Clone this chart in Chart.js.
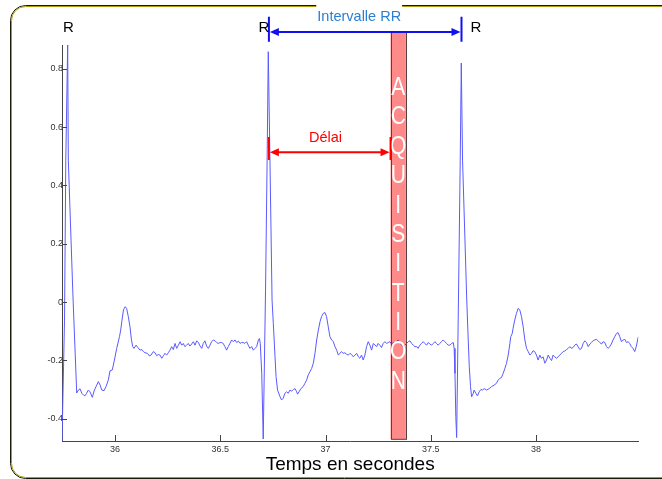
<!DOCTYPE html>
<html lang="fr">
<head>
<meta charset="UTF-8">
<title>ECG - intervalle RR</title>
<script src="https://cdn.jsdelivr.net/npm/chart.js@4"></script>
<style>
  html,body{margin:0;padding:0;background:#fff}
  #wrap{width:662px;height:479px}
</style>
</head>
<body>
<div id="wrap"><canvas id="ecg" width="662" height="479"></canvas></div>
<script>
// trace: time (s) and amplitude
const ecgTime = [
  35.748,35.760,35.766,35.775,35.778,35.799,35.805,35.818,35.826,35.834,35.842,35.850,35.857,35.865,35.873,35.881,
  35.892,35.902,35.913,35.921,35.929,35.937,35.948,35.957,35.968,35.976,35.987,35.997,36.008,36.021,36.027,36.033,
  36.040,36.048,36.055,36.063,36.071,36.078,36.084,36.090,36.100,36.108,36.119,36.127,36.135,36.142,36.154,36.163,
  36.171,36.182,36.190,36.198,36.206,36.214,36.222,36.230,36.237,36.245,36.253,36.261,36.269,36.277,36.285,36.293,
  36.301,36.309,36.317,36.324,36.332,36.340,36.348,36.356,36.364,36.372,36.380,36.388,36.396,36.404,36.412,36.419,
  36.427,36.435,36.443,36.451,36.459,36.467,36.475,36.483,36.491,36.499,36.506,36.514,36.522,36.530,36.538,36.546,
  36.554,36.562,36.570,36.578,36.586,36.594,36.601,36.609,36.617,36.625,36.633,36.641,36.649,36.657,36.665,36.673,
  36.681,36.686,36.690,36.697,36.704,36.715,36.722,36.728,36.736,36.746,36.752,36.760,36.765,36.772,36.784,36.791,
  36.799,36.807,36.815,36.823,36.831,36.839,36.847,36.855,36.863,36.867,36.874,36.883,36.894,36.902,36.910,36.918,
  36.926,36.934,36.942,36.950,36.958,36.966,36.974,36.981,36.989,36.997,37.005,37.013,37.021,37.029,37.037,37.045,
  37.053,37.061,37.068,37.076,37.084,37.092,37.100,37.108,37.116,37.124,37.132,37.140,37.148,37.156,37.163,37.171,
  37.179,37.187,37.195,37.203,37.211,37.219,37.227,37.235,37.243,37.250,37.258,37.266,37.274,37.282,37.290,37.298,
  37.306,37.314,37.322,37.330,37.338,37.345,37.353,37.361,37.369,37.377,37.385,37.393,37.401,37.409,37.417,37.425,
  37.433,37.440,37.448,37.456,37.464,37.472,37.480,37.488,37.496,37.504,37.512,37.520,37.527,37.535,37.543,37.551,
  37.559,37.567,37.575,37.583,37.591,37.599,37.607,37.611,37.615,37.619,37.623,37.631,37.640,37.645,37.651,37.671,
  37.678,37.683,37.689,37.694,37.702,37.706,37.714,37.722,37.730,37.738,37.746,37.754,37.765,37.778,37.789,37.801,
  37.812,37.820,37.828,37.836,37.844,37.852,37.860,37.868,37.876,37.880,37.887,37.891,37.899,37.907,37.915,37.923,
  37.931,37.939,37.947,37.955,37.963,37.971,37.979,37.986,37.994,38.002,38.010,38.018,38.026,38.034,38.042,38.050,
  38.058,38.066,38.074,38.081,38.089,38.097,38.105,38.113,38.121,38.129,38.137,38.145,38.153,38.161,38.168,38.176,
  38.184,38.192,38.200,38.208,38.216,38.224,38.232,38.240,38.248,38.256,38.263,38.271,38.279,38.287,38.295,38.303,
  38.311,38.319,38.327,38.335,38.343,38.350,38.358,38.366,38.374,38.382,38.390,38.398,38.406,38.414,38.422,38.430,
  38.438,38.445,38.453,38.461,38.469,38.477,38.486
];
const ecgValue = [
  -0.477,-0.062,0.487,0.882,0.487,0.041,-0.072,-0.312,-0.302,-0.298,-0.313,-0.319,-0.322,-0.313,-0.302,-0.308,
  -0.327,-0.302,-0.285,-0.273,-0.285,-0.302,-0.304,-0.290,-0.268,-0.236,-0.233,-0.199,-0.159,-0.119,-0.096,-0.062,
  -0.027,-0.016,-0.022,-0.050,-0.085,-0.130,-0.153,-0.159,-0.148,-0.156,-0.165,-0.163,-0.170,-0.174,-0.176,-0.185,
  -0.182,-0.170,-0.174,-0.184,-0.180,-0.182,-0.193,-0.184,-0.176,-0.182,-0.174,-0.165,-0.153,-0.163,-0.142,-0.159,
  -0.148,-0.136,-0.148,-0.142,-0.153,-0.148,-0.142,-0.151,-0.144,-0.136,-0.148,-0.133,-0.139,-0.151,-0.159,-0.142,
  -0.133,-0.151,-0.159,-0.148,-0.136,-0.130,-0.133,-0.139,-0.142,-0.139,-0.139,-0.142,-0.153,-0.165,-0.153,-0.142,
  -0.130,-0.136,-0.130,-0.139,-0.134,-0.142,-0.139,-0.139,-0.142,-0.136,-0.148,-0.159,-0.153,-0.165,-0.159,-0.153,
  -0.130,-0.125,-0.142,-0.245,-0.470,0.041,0.453,0.859,0.487,0.007,-0.073,-0.187,-0.256,-0.302,-0.325,-0.336,
  -0.330,-0.313,-0.308,-0.313,-0.302,-0.306,-0.300,-0.297,-0.308,-0.316,-0.308,-0.297,-0.290,-0.279,-0.268,-0.250,
  -0.239,-0.228,-0.210,-0.176,-0.130,-0.096,-0.067,-0.050,-0.039,-0.036,-0.050,-0.085,-0.119,-0.130,-0.136,-0.153,
  -0.165,-0.182,-0.176,-0.170,-0.176,-0.174,-0.179,-0.182,-0.176,-0.180,-0.188,-0.182,-0.176,-0.188,-0.193,-0.182,
  -0.199,-0.182,-0.153,-0.136,-0.148,-0.165,-0.142,-0.148,-0.153,-0.142,-0.148,-0.156,-0.142,-0.136,-0.142,-0.139,
  -0.136,-0.144,-0.139,-0.142,-0.136,-0.130,-0.136,-0.148,-0.153,-0.148,-0.142,-0.136,-0.133,-0.142,-0.148,-0.153,
  -0.153,-0.159,-0.148,-0.142,-0.136,-0.142,-0.148,-0.139,-0.144,-0.148,-0.142,-0.136,-0.142,-0.148,-0.142,-0.136,
  -0.130,-0.136,-0.142,-0.148,-0.148,-0.142,-0.139,-0.159,-0.245,-0.393,-0.465,-0.027,0.487,0.820,0.487,0.007,
  -0.130,-0.222,-0.290,-0.325,-0.313,-0.302,-0.313,-0.322,-0.308,-0.300,-0.302,-0.297,-0.302,-0.297,-0.290,-0.285,
  -0.279,-0.268,-0.262,-0.259,-0.245,-0.228,-0.210,-0.182,-0.142,-0.119,-0.108,-0.090,-0.062,-0.039,-0.022,-0.027,
  -0.050,-0.085,-0.130,-0.159,-0.170,-0.182,-0.176,-0.167,-0.170,-0.182,-0.199,-0.182,-0.193,-0.188,-0.210,-0.199,
  -0.182,-0.193,-0.201,-0.182,-0.188,-0.193,-0.188,-0.182,-0.176,-0.170,-0.168,-0.163,-0.159,-0.153,-0.159,-0.156,
  -0.148,-0.144,-0.153,-0.163,-0.159,-0.142,-0.133,-0.139,-0.153,-0.144,-0.139,-0.133,-0.130,-0.128,-0.133,-0.139,
  -0.144,-0.136,-0.139,-0.153,-0.159,-0.153,-0.144,-0.130,-0.119,-0.108,-0.105,-0.119,-0.136,-0.130,-0.128,-0.139,
  -0.136,-0.142,-0.153,-0.159,-0.170,-0.151,-0.119
];
const xTicks = [36, 36.5, 37, 37.5, 38];
const yTicks = [-0.4, -0.2, 0, 0.2, 0.4, 0.6, 0.8];
const rPeaks = [35.775, 36.731, 37.646];      // R waves
const acqWindow = [37.309, 37.382];           // acquisition slot
const acqLetters = 'ACQUISITION';

// where the annotations sit (axis units)
const marks = {
  rLabelX: [35.778, 36.707, 37.715], rLabelY: 0.925,
  rrY: 0.927, rrTop: 0.979, rrBottom: 0.893, rrTextX: 37.16, rrTextY: 0.965,
  delayY: 0.514, delayTop: 0.566, delayBottom: 0.487, delayTextX: 37.0, delayTextY: 0.550,
  acqTop: 0.927, acqBottom: -0.471, letterFirst: 0.734, letterLast: -0.274
};

const family = "'Liberation Sans', Arial, sans-serif";

function roundRect(ctx, x, y, w, h, r) {
  ctx.beginPath();
  ctx.moveTo(x + r, y);
  ctx.lineTo(x + w - r, y);
  ctx.arcTo(x + w, y, x + w, y + r, r);
  ctx.lineTo(x + w, y + h - r);
  ctx.arcTo(x + w, y + h, x + w - r, y + h, r);
  ctx.lineTo(x + r, y + h);
  ctx.arcTo(x, y + h, x, y + h - r, r);
  ctx.lineTo(x, y + r);
  ctx.arcTo(x, y, x + r, y, r);
  ctx.closePath();
}

function dimension(ctx, x1, x2, y, top, bottom, color) {
  ctx.save();
  ctx.strokeStyle = color; ctx.fillStyle = color; ctx.lineWidth = 2;
  ctx.beginPath();
  ctx.moveTo(x1, top); ctx.lineTo(x1, bottom);
  ctx.moveTo(x2, top); ctx.lineTo(x2, bottom);
  ctx.moveTo(x1 + 6, y); ctx.lineTo(x2 - 6, y);
  ctx.stroke();
  [[x1, 1], [x2, -1]].forEach(([x, d]) => {
    ctx.beginPath();
    ctx.moveTo(x + d, y);
    ctx.lineTo(x + d * 10, y - 4);
    ctx.lineTo(x + d * 10, y + 4);
    ctx.closePath();
    ctx.fill();
  });
  ctx.restore();
}

const ecgMarks = {
  id: 'ecgMarks',
  beforeDraw(chart) {
    const ctx = chart.ctx;
    ctx.save();
    ctx.fillStyle = '#fff';
    ctx.fillRect(0, 0, chart.width, chart.height);
    ctx.lineWidth = 1;
    roundRect(ctx, 10.5, 5.5, 700, 473, 15);
    ctx.strokeStyle = '#1a1a08';
    ctx.stroke();
    roundRect(ctx, 11.5, 6.5, 698, 471, 14);
    ctx.strokeStyle = '#a89e10';
    ctx.stroke();
    ctx.restore();
  },
  afterDatasetsDraw(chart) {
    const ctx = chart.ctx, xs = chart.scales.x, ys = chart.scales.y, a = chart.chartArea;
    ctx.save();
    // inward ticks
    ctx.strokeStyle = '#444'; ctx.lineWidth = 1;
    ctx.beginPath();
    xTicks.forEach(v => {
      const px = Math.round(xs.getPixelForValue(v)) + 0.5;
      ctx.moveTo(px, a.bottom); ctx.lineTo(px, a.bottom - 6);
    });
    yTicks.forEach(v => {
      const py = Math.round(ys.getPixelForValue(v)) + 0.5;
      ctx.moveTo(a.left, py); ctx.lineTo(a.left + 5, py);
    });
    ctx.stroke();

    // acquisition slot
    const bx1 = xs.getPixelForValue(acqWindow[0]), bx2 = xs.getPixelForValue(acqWindow[1]);
    const by1 = ys.getPixelForValue(marks.acqTop), by2 = ys.getPixelForValue(marks.acqBottom);
    ctx.fillStyle = 'rgba(255,0,0,0.46)';
    ctx.fillRect(bx1, by1, bx2 - bx1, by2 - by1);
    ctx.strokeStyle = '#5a4040'; ctx.lineWidth = 1;
    ctx.strokeRect(Math.round(bx1) + 0.5, by1, Math.round(bx2 - bx1), by2 - by1);
    const l1 = ys.getPixelForValue(marks.letterFirst), l2 = ys.getPixelForValue(marks.letterLast);
    ctx.fillStyle = '#fff';
    ctx.font = '21px ' + family;
    ctx.textAlign = 'center'; ctx.textBaseline = 'middle';
    acqLetters.split('').forEach((ch, i) => {
      ctx.save();
      ctx.translate((bx1 + bx2) / 2, l1 + i * (l2 - l1) / (acqLetters.length - 1));
      ctx.scale(1, 1.2);
      ctx.fillText(ch, 0, 0);
      ctx.restore();
    });

    // RR interval
    dimension(ctx, xs.getPixelForValue(rPeaks[1]), xs.getPixelForValue(rPeaks[2]),
      ys.getPixelForValue(marks.rrY), ys.getPixelForValue(marks.rrTop), ys.getPixelForValue(marks.rrBottom), '#1010f0');
    // delay
    dimension(ctx, xs.getPixelForValue(rPeaks[1]), xs.getPixelForValue(acqWindow[0]),
      ys.getPixelForValue(marks.delayY), ys.getPixelForValue(marks.delayTop), ys.getPixelForValue(marks.delayBottom), '#ff0000');

    ctx.textAlign = 'center'; ctx.textBaseline = 'alphabetic';
    ctx.fillStyle = '#000';
    ctx.font = '15px ' + family;
    marks.rLabelX.forEach(t => ctx.fillText('R', xs.getPixelForValue(t), ys.getPixelForValue(marks.rLabelY)));

    ctx.font = '14.5px ' + family;
    const tx = xs.getPixelForValue(marks.rrTextX), ty = ys.getPixelForValue(marks.rrTextY);
    const tw = ctx.measureText('Intervalle RR').width;
    ctx.fillStyle = '#fff';
    ctx.fillRect(tx - tw / 2 - 1, ty - 16, tw + 2, 19);
    ctx.fillStyle = '#2a7fd4';
    ctx.fillText('Intervalle RR', tx, ty);

    ctx.fillStyle = '#ff0000';
    ctx.fillText('Délai', xs.getPixelForValue(marks.delayTextX), ys.getPixelForValue(marks.delayTextY));
    ctx.restore();
  }
};

new Chart(document.getElementById('ecg'), {
  type: 'line',
  data: {
    datasets: [{
      data: ecgTime.map((t, i) => ({x: t, y: ecgValue[i]})),
      borderColor: '#5a5aff', borderWidth: 1, pointRadius: 0, tension: 0, fill: false
    }]
  },
  options: {
    responsive: false, animation: false, events: [],
    layout: {padding: {left: 0, top: 45, right: 23.7, bottom: 0}},
    plugins: {legend: {display: false}, tooltip: {enabled: false}},
    scales: {
      x: {
        type: 'linear', min: 35.748, max: 38.486,
        grid: {display: false, drawTicks: false},
        border: {color: '#444', width: 1},
        afterBuildTicks: s => { s.ticks = xTicks.map(v => ({value: v})); },
        afterFit: s => { s.height = 38; },
        ticks: {padding: 3, color: '#333', font: {family, size: 9}, maxRotation: 0, callback: v => String(v)},
        title: {display: true, text: 'Temps en secondes', color: '#000', font: {family, size: 19}, padding: {top: 0, bottom: 3}}
      },
      y: {
        type: 'linear', min: -0.4768, max: 0.882,
        grid: {display: false, drawTicks: false},
        border: {color: '#444', width: 1},
        afterBuildTicks: s => { s.ticks = yTicks.map(v => ({value: v})); },
        afterFit: s => { s.width = 62; },
        ticks: {padding: -1, color: '#333', font: {family, size: 9}, callback: v => String(v)}
      }
    }
  },
  plugins: [ecgMarks]
});
</script>
</body>
</html>
